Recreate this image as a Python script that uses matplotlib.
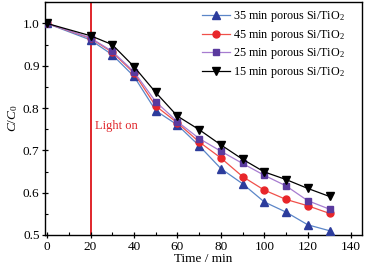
import matplotlib
matplotlib.use("Agg")
import matplotlib.pyplot as plt
from matplotlib.ticker import MultipleLocator

plt.rcParams['font.family'] = ['Liberation Serif', 'DejaVu Serif']
plt.rcParams['mathtext.fontset'] = 'custom'
plt.rcParams['mathtext.rm'] = 'Liberation Serif'
plt.rcParams['mathtext.it'] = 'Liberation Serif:italic'

time = [0, 20, 30, 40, 50, 60, 70, 80, 90, 100, 110, 120, 130]
s35 = [1.0, 0.961, 0.926, 0.875, 0.794, 0.760, 0.711, 0.657, 0.621, 0.578, 0.554, 0.524, 0.510]
s45 = [1.0, 0.965, 0.932, 0.883, 0.805, 0.765, 0.720, 0.682, 0.638, 0.606, 0.584, 0.569, 0.551]
s25 = [1.0, 0.966, 0.934, 0.886, 0.815, 0.768, 0.728, 0.698, 0.669, 0.641, 0.616, 0.581, 0.561]
s15 = [1.0, 0.971, 0.950, 0.898, 0.837, 0.781, 0.749, 0.713, 0.679, 0.649, 0.631, 0.610, 0.591]
labels = ["35 min porous Si/TiO$_2$", "45 min porous Si/TiO$_2$",
          "25 min porous Si/TiO$_2$", "15 min porous Si/TiO$_2$"]

fig = plt.figure(figsize=(3.76, 2.71), dpi=100)
ax = fig.add_axes([0.12, 0.133, 0.843, 0.86])

ax.axvline(20, color='#e0262b', lw=1.4, zorder=1)

ax.plot(time, s35, '-^', color='#5b86c8', mfc='#2c3c9c', mec='#2c3c9c', ms=5.5, lw=0.9, label=labels[0], zorder=3)
ax.plot(time, s45, '-o', color='#f0504a', mfc='#e8262a', mec='#e8262a', ms=5, lw=0.9, label=labels[1], zorder=3)
ax.plot(time, s25, '-s', color='#a77cd0', mfc='#5a3a9e', mec='#5a3a9e', ms=4.6, lw=0.9, label=labels[2], zorder=3)
ax.plot(time, s15, '-v', color='black', mfc='black', mec='black', ms=5.5, lw=0.9, label=labels[3], zorder=4)

ax.text(22, 0.757, "Light on", color='#e0262b', fontsize=9, va='center', ha='left')

ax.set_xlim(-0.9, 145)
ax.set_ylim(0.5, 1.051)
ax.xaxis.set_major_locator(MultipleLocator(20))
ax.xaxis.set_minor_locator(MultipleLocator(10))
ax.yaxis.set_minor_locator(MultipleLocator(0.05))
ax.set_yticks([0.5, 0.6, 0.7, 0.8, 0.9, 1.0])
ax.set_yticklabels(["0.5", "0.6", "0.7", "0.8", "0.9", "1.0"])
ax.tick_params(which='major', direction='inout', length=5, width=0.9, labelsize=9.5, pad=1.5)
ax.tick_params(which='minor', direction='in', length=2.5, width=0.8)
for sp in ax.spines.values():
    sp.set_linewidth(1.0)

ax.set_xlabel("Time / min", fontsize=9.5, labelpad=0.5)
ax.set_ylabel("$C/C_0$", fontsize=9.5, labelpad=2)

leg = ax.legend(loc='upper right', frameon=False, fontsize=8.7, handlelength=2.3,
                handletextpad=0.3, labelspacing=0.3, borderaxespad=0.2,
                bbox_to_anchor=(0.97, 1.0))

fig.savefig("out.png", dpi=100)
